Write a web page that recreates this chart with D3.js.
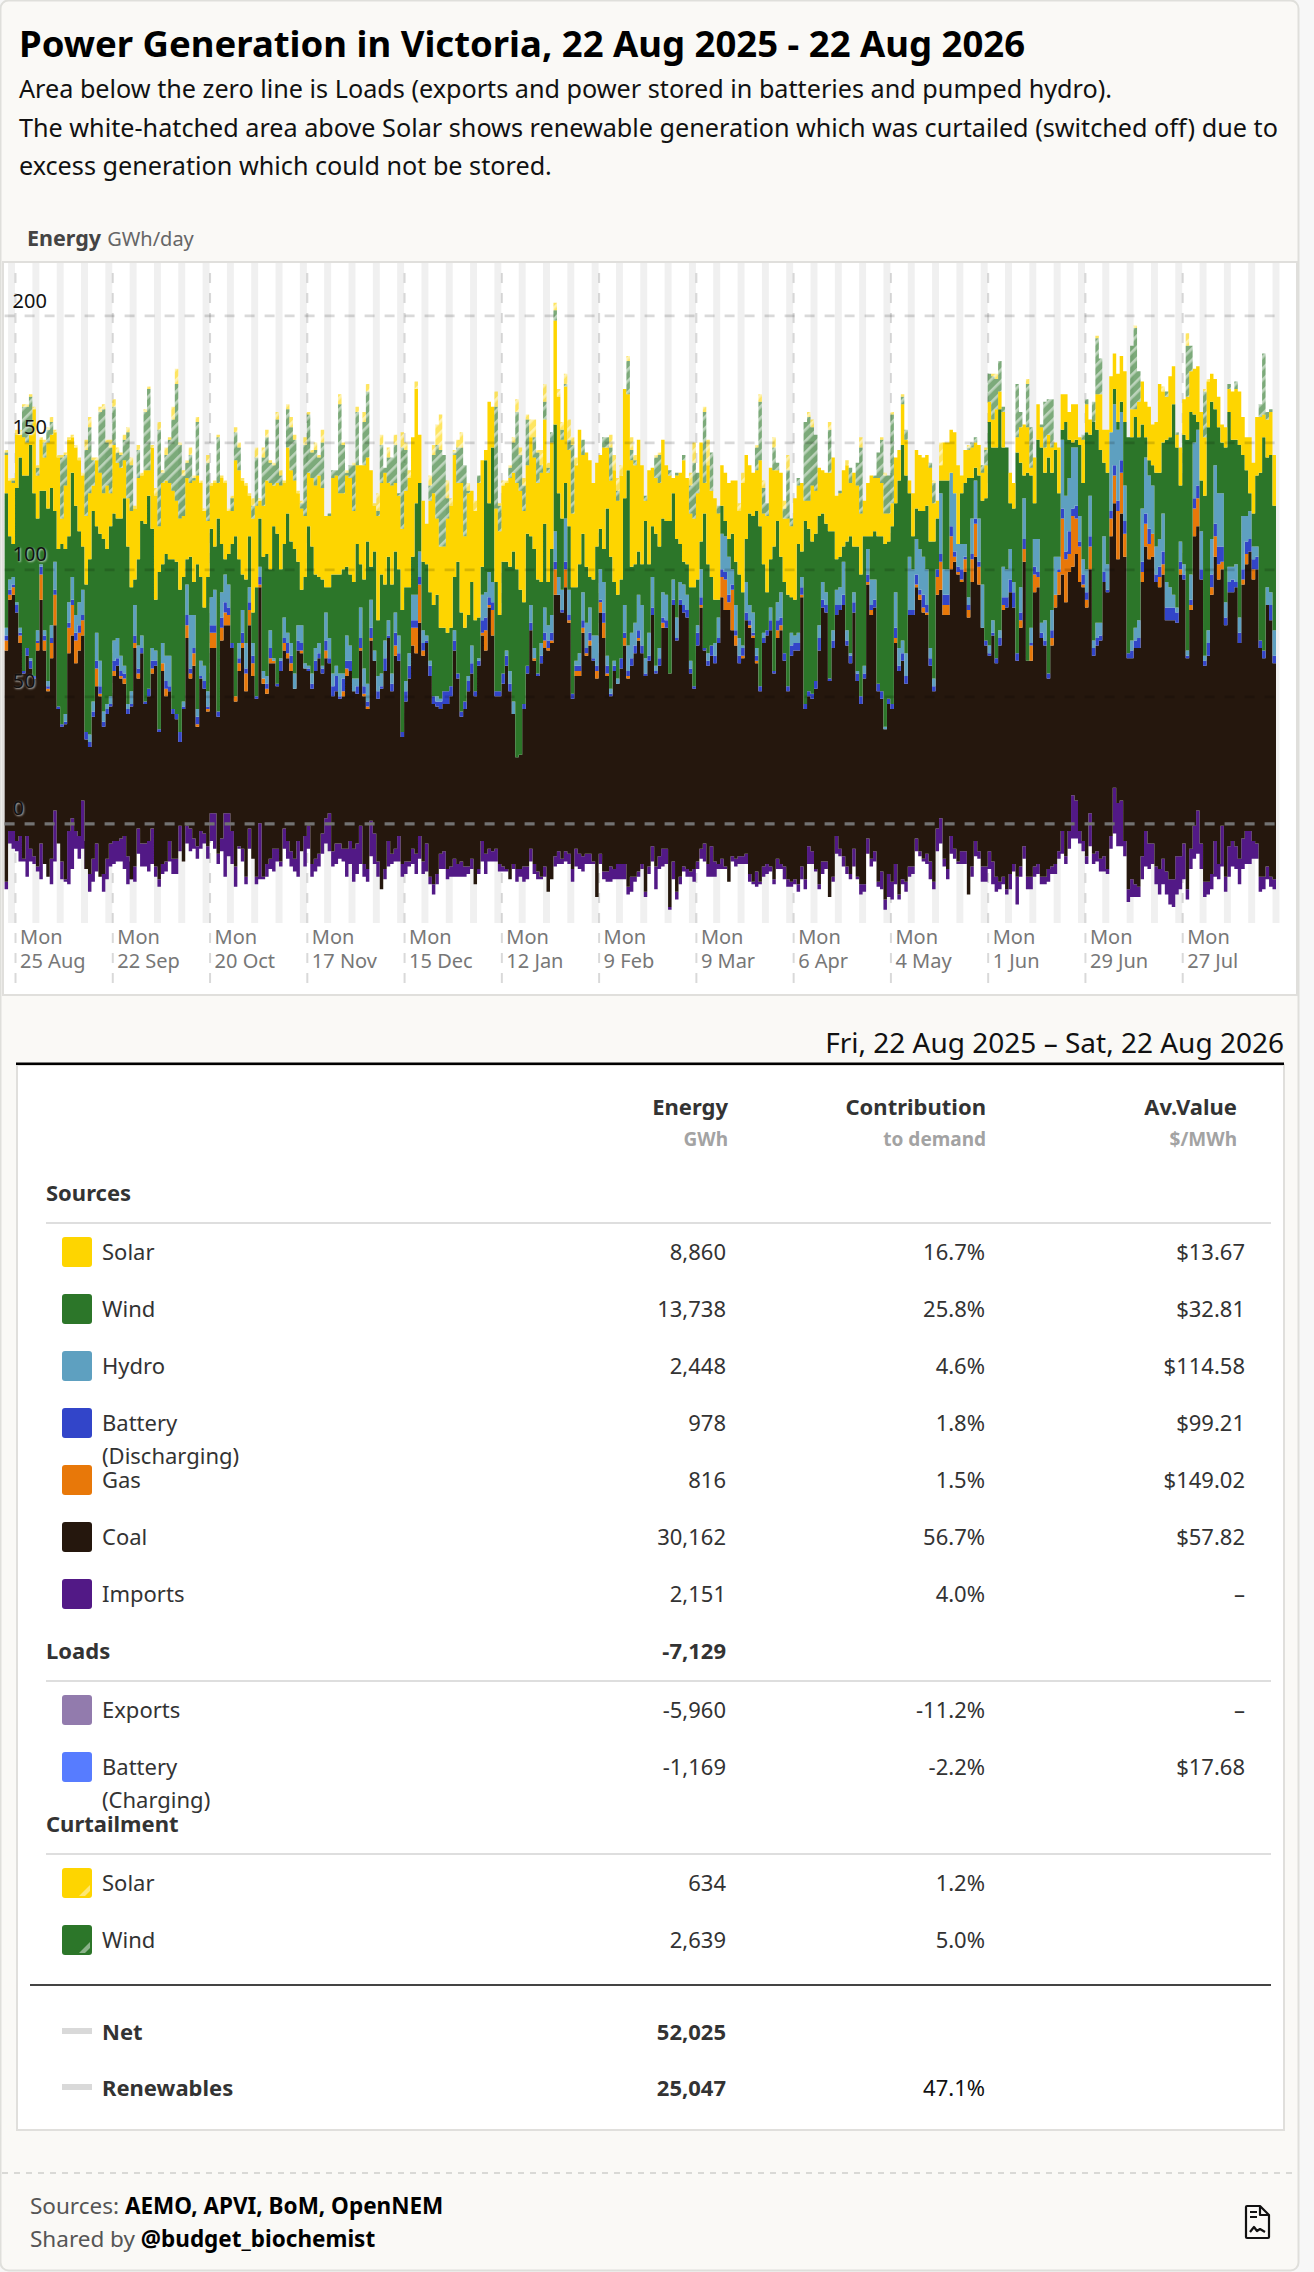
<!DOCTYPE html>
<html>
<head>
<meta charset="utf-8">
<script src="https://cdn.jsdelivr.net/npm/d3@7"></script>
<style>
  html, body { margin: 0; background: #f7f7f7; }
  svg { display: block; font-family: "Noto Sans", sans-serif; }
  .y-label { text-shadow: 1px 1px 2px rgba(255,255,255,.7); }
</style>
</head>
<body>
<div id="chart"></div>
<script>
// daily levels in GWh/day, one block per quarter of the chart
const floorLevel = [
-26,-8,-10,-11,-15,-15,-21,-15,-16,-19,-22,-16,-21,-24,-15,-8,-22,-23,-24,-18,-10,-14,-10,-7,-27,-23,-19,-21,-27,-22,-17,-16,-15,-15,-18,-24,-15,-23,-12,-17,-17,-19,-16,-21,-25,-20,-19,-15,-20,-20,-11,-15,-8,-11,-10,-14,-10,-8,-14,-7,-10,-16,-11,-21,-13,-16,-25,-10,-15,-24,-10,-14,-24,-22,-22,-21,-18,-19,-15,-17,-10,-14,-17,-19,-21,-11,-17,-10,-21,-19,-17,-12,
-8,-11,-17,-16,-14,-15,-21,-16,-23,-20,-16,-21,-23,-13,-16,-21,-26,-22,-17,-16,-15,-15,-21,-20,-17,-16,-20,-14,-20,-19,-24,-28,-24,-18,-18,-22,-21,-21,-21,-21,-21,-20,-18,-24,-20,-15,-20,-15,-15,-15,-19,-19,-19,-22,-18,-23,-21,-23,-22,-15,-20,-22,-22,-21,-27,-22,-17,-16,-16,-15,-16,-23,-17,-18,-19,-16,-16,-16,-29,-16,-22,-23,-23,-22,-22,-22,-22,-28,-27,-23,-21,
-18,-29,-20,-15,-26,-18,-17,-16,-34,-22,-30,-24,-19,-21,-21,-23,-18,-14,-15,-21,-21,-21,-18,-18,-18,-23,-15,-17,-16,-16,-16,-23,-24,-25,-24,-21,-20,-19,-24,-18,-18,-22,-25,-25,-24,-27,-22,-26,-16,-16,-19,-26,-20,-18,-29,-23,-12,-13,-17,-20,-22,-17,-22,-28,-27,-12,-17,-15,-25,-26,-34,-29,-30,-24,-30,-24,-27,-21,-20,-11,-13,-15,-16,-22,-26,-11,-8,-17,-22,-12,-14,-16,
-16,-16,-28,-21,-13,-14,-23,-23,-18,-24,-27,-26,-24,-28,-26,-19,-32,-21,-14,-26,-26,-21,-20,-24,-24,-23,-20,-20,-14,-12,-16,-10,-6,-6,-8,-11,-16,-9,-16,-15,-19,-19,-20,-10,-4,-9,-9,-13,-31,-29,-29,-29,-22,-17,-18,-16,-24,-28,-24,-28,-32,-33,-28,-26,-22,-30,-18,-14,-12,-18,-29,-28,-26,-21,-22,-17,-27,-21,-17,-18,-24,-18,-16,-16,-14,-14,-27,-26,-22,-25,-26];

const importsTop = [
-23,-3,-3,-7,-5,-14,-5,-10,-13,-17,-8,-16,-21,-14,5,-8,-15,-22,-3,2,-3,-5,9,-18,-20,-14,-8,-21,-20,-14,-8,-7,-7,-6,-5,-13,-22,-17,-2,-8,-8,-7,-2,-17,-22,-16,-15,-7,-14,-14,-1,-15,-1,-2,-6,-9,-3,-4,-9,4,4,-12,-6,4,4,-3,-17,-9,-10,-21,-2,-14,-21,0,-21,-16,-14,-10,-10,-15,-2,-7,-11,-14,-7,-11,-5,-1,-16,-14,-12,-4,
2,4,-11,-8,-8,-10,-10,-7,-10,-8,-1,-16,-18,1,-4,-15,-26,-18,-7,-12,-10,-5,-16,-15,-15,-10,-12,-5,-15,-8,-21,-24,-20,-12,-11,-18,-17,-14,-16,-15,-17,-17,-14,-24,-18,-7,-12,-10,-11,-10,-16,-17,-18,-22,-16,-18,-18,-17,-17,-10,-16,-19,-21,-17,-27,-22,-13,-11,-14,-11,-12,-18,-10,-12,-13,-12,-12,-15,-29,-12,-19,-19,-17,-18,-16,-16,-16,-25,-21,-21,-19,
-16,-27,-17,-9,-17,-13,-10,-10,-33,-15,-27,-21,-17,-18,-19,-18,-15,-10,-8,-16,-9,-15,-16,-14,-17,-23,-13,-14,-13,-13,-12,-20,-23,-19,-23,-17,-16,-17,-22,-14,-16,-17,-22,-23,-22,-24,-17,-22,-9,-11,-18,-24,-15,-15,-29,-21,-5,-10,-13,-17,-20,-10,-21,-24,-24,-6,-14,-11,-23,-19,-30,-20,-23,-16,-28,-22,-23,-17,-17,-6,-11,-14,-12,-15,-23,-2,2,-14,-18,-5,-10,-15,
-11,-11,-28,-17,-7,-11,-17,-17,-11,-15,-21,-23,-21,-26,-20,-16,-21,-17,-9,-21,-21,-17,-16,-21,-21,-18,-17,-16,-11,-3,-13,-3,11,9,-3,-7,-13,4,-12,-11,-14,-13,-18,-5,14,8,9,-7,-26,-22,-24,-25,-13,-3,-8,-8,-17,-18,-14,-19,-22,-22,-13,-13,-8,-26,-10,-1,5,-8,-23,-23,-20,-7,-16,-1,-21,-9,-7,-9,-14,-6,-3,-3,-7,-8,-21,-21,-17,-21,-22];

const coalTop = [
68,88,90,83,71,59,66,61,57,68,88,68,52,65,78,45,38,39,67,74,63,68,74,33,30,42,54,50,38,43,46,58,62,57,55,43,46,69,57,67,47,50,59,62,36,60,50,52,43,41,32,45,73,57,62,38,57,53,44,69,69,42,72,78,78,69,48,60,69,52,78,58,49,93,55,51,63,63,54,60,68,65,60,53,68,67,61,60,53,60,65,59,
65,63,50,52,49,50,58,60,52,51,68,50,45,72,64,49,53,60,73,52,66,64,34,48,57,70,67,79,66,71,58,47,46,45,47,47,50,68,57,42,45,52,59,50,62,74,68,85,74,50,50,55,62,52,43,26,27,45,59,76,64,58,63,69,68,71,90,90,83,93,79,49,58,58,75,66,70,64,57,83,73,58,50,60,55,61,70,57,62,67,72,
67,58,64,82,59,62,77,77,59,86,72,86,83,81,59,53,70,85,68,62,66,63,71,89,84,84,76,70,63,65,80,77,73,63,52,71,74,76,59,73,76,64,52,66,68,68,89,45,50,49,53,68,85,83,56,69,82,84,86,70,63,83,56,47,57,94,82,85,52,49,37,47,45,71,60,64,55,82,82,93,88,83,82,62,52,90,92,82,82,100,103,98,
95,99,81,95,105,94,77,70,66,74,63,70,84,85,91,85,64,77,103,64,64,91,93,73,70,57,70,85,90,98,87,99,101,106,95,93,85,100,66,70,72,95,91,113,126,104,122,105,65,65,69,69,95,109,104,105,95,93,98,80,80,80,79,98,96,65,84,113,117,96,62,66,90,105,96,100,78,91,91,93,71,94,102,107,96,100,69,65,86,80,63];

const gasTop = [
72,90,93,83,74,59,66,61,57,71,98,72,53,71,90,45,38,39,77,86,72,75,80,33,30,42,61,51,38,43,46,60,62,58,57,43,46,71,59,67,47,50,61,62,36,63,53,52,43,41,32,45,78,59,67,39,57,53,45,75,75,42,77,83,82,69,50,63,71,59,84,63,49,94,57,53,65,64,54,60,71,67,63,53,68,68,61,60,53,60,65,59,
68,63,50,52,49,52,61,60,52,51,69,51,46,73,64,49,53,60,73,52,70,64,34,48,57,77,77,94,68,71,58,47,46,45,47,47,50,68,57,42,45,52,59,50,62,75,76,86,84,50,50,55,62,52,43,26,27,45,59,76,65,58,63,72,69,72,100,90,83,100,80,49,60,60,77,67,72,64,60,87,79,59,50,60,55,61,73,58,62,67,73,
67,58,64,82,59,62,79,77,59,86,72,86,83,81,59,53,70,86,68,62,66,63,71,97,96,87,92,74,63,66,80,78,74,64,52,71,74,76,59,76,78,64,52,66,68,68,90,45,50,49,53,68,85,83,56,69,82,84,86,70,63,83,56,47,57,95,84,85,52,49,37,47,45,73,60,64,55,82,82,94,90,85,83,62,52,97,103,86,86,113,105,99,
96,104,84,104,118,101,77,70,66,74,63,70,86,85,91,85,64,80,108,64,70,98,97,73,70,57,73,90,99,120,104,106,121,120,109,94,88,109,66,70,72,95,91,120,137,123,138,114,65,65,69,69,99,118,110,114,95,97,102,80,80,80,79,100,96,65,86,124,128,96,62,66,93,113,102,103,78,91,91,93,71,96,106,107,100,100,69,65,86,80,63];

const batteryTop = [
74,92,94,86,75,60,69,64,58,72,101,74,54,73,92,46,39,40,79,88,75,78,82,36,32,44,64,54,40,45,47,64,65,60,59,45,47,74,61,69,48,53,64,64,37,63,56,54,45,43,36,46,82,61,69,42,58,56,46,78,78,44,81,87,85,71,50,65,75,61,87,66,50,97,57,55,69,64,55,64,73,71,66,53,72,71,61,61,55,64,67,61,
72,65,54,58,50,57,64,64,52,54,73,54,48,77,64,52,54,65,74,55,75,67,36,52,62,80,80,97,71,72,62,50,48,48,52,52,54,72,59,44,48,56,63,52,64,80,81,89,87,52,52,59,66,55,43,26,27,47,62,79,65,59,66,75,72,75,103,90,84,103,82,51,62,62,80,69,75,65,62,88,83,62,51,62,55,65,75,60,65,70,76,
70,59,66,85,60,65,81,80,59,88,73,88,86,84,61,54,75,89,69,64,70,66,73,100,99,90,94,76,66,69,83,80,75,66,54,73,76,80,60,80,81,67,54,70,71,71,93,47,52,51,56,73,88,86,57,72,86,86,90,72,66,87,59,50,59,98,86,88,55,52,37,49,47,77,62,67,58,84,84,98,92,90,86,65,54,100,106,90,90,117,107,101,
100,105,86,106,120,103,77,72,67,75,65,73,89,89,96,91,67,83,112,64,71,101,99,75,72,59,76,90,100,124,107,115,124,125,111,98,91,113,69,73,74,99,92,123,141,127,143,119,67,68,72,73,103,122,116,114,98,101,107,85,85,85,83,103,98,66,88,128,133,100,64,71,98,118,109,109,81,95,96,95,75,100,111,112,104,105,72,68,86,86,66];

const hydroTop = [
77,96,97,87,77,60,69,65,58,76,102,76,56,78,103,46,39,43,87,97,82,87,92,36,35,48,75,64,44,47,50,72,73,66,62,47,52,86,70,74,48,53,69,68,37,71,66,66,45,43,36,48,94,82,82,45,64,62,52,89,92,44,91,98,94,71,50,71,84,71,93,71,50,101,60,58,76,65,55,65,81,75,71,59,78,78,63,62,59,69,71,62,
83,73,59,62,59,59,74,70,57,57,85,61,55,88,68,58,59,72,80,59,83,74,36,56,67,90,90,107,76,74,64,50,50,49,52,52,54,76,59,44,48,58,70,52,65,90,91,99,95,52,52,59,68,60,48,26,27,47,62,86,69,59,71,85,78,82,115,97,92,120,92,51,64,67,91,79,85,74,74,100,95,66,53,64,57,65,86,70,75,79,90,
86,65,75,97,62,69,91,90,59,96,81,95,94,90,64,54,78,100,69,67,70,71,81,114,113,105,100,86,73,70,95,86,83,69,54,75,76,85,60,87,91,67,54,75,74,75,97,47,52,51,56,78,95,91,57,76,92,93,103,76,67,91,60,50,62,108,96,96,55,52,38,49,47,91,69,72,67,105,100,112,108,105,100,69,57,100,130,100,100,138,130,110,
110,110,89,120,135,120,94,72,70,80,65,76,101,100,108,95,67,93,128,64,77,112,112,79,80,59,84,105,105,151,129,136,148,148,121,104,100,129,72,79,79,113,102,154,165,155,162,133,67,72,77,80,124,144,137,133,109,112,122,95,93,90,85,111,102,68,98,150,155,115,66,76,112,141,130,130,87,101,101,102,81,121,121,123,109,109,72,68,93,91,76];

const windTop = [
130,113,110,132,144,137,137,149,130,120,131,131,124,132,123,108,110,108,113,138,125,115,109,94,104,123,117,114,112,108,117,122,120,120,128,109,93,96,104,119,118,129,116,88,99,102,106,104,104,103,92,97,104,105,95,102,97,85,97,116,109,120,110,104,106,110,113,104,98,96,113,83,93,120,105,106,100,117,114,100,110,122,111,108,103,92,97,117,109,98,97,96,
93,93,98,98,98,100,101,98,95,110,102,96,111,101,107,80,98,94,105,94,107,100,84,93,93,105,126,134,103,102,91,86,90,77,77,75,77,97,103,83,77,82,95,80,81,101,143,126,148,95,82,103,103,101,107,100,92,87,114,113,108,96,95,118,95,108,157,130,120,134,117,93,93,102,114,101,97,96,109,116,108,124,105,95,90,96,128,139,101,102,107,
102,119,102,117,114,109,120,119,119,130,112,110,103,102,93,93,96,111,122,102,97,88,88,125,119,112,114,103,98,91,112,122,121,123,117,102,91,104,109,119,105,95,90,89,88,110,107,119,116,111,114,121,122,118,115,115,104,105,109,111,113,109,109,98,113,113,113,115,113,113,110,111,117,126,135,149,137,130,113,124,123,123,125,111,111,120,135,135,135,138,130,110,
130,134,136,136,140,137,127,128,158,148,148,163,148,148,126,124,146,142,137,138,137,126,151,148,138,144,138,147,130,155,158,151,150,151,149,134,154,153,158,155,147,142,138,154,171,158,166,158,152,152,160,152,157,152,143,141,138,138,150,151,152,165,148,133,153,151,162,161,158,135,129,156,166,163,156,150,148,162,151,151,149,145,139,130,122,137,138,152,144,145,125];

const solarTop = [
145,135,134,153,153,152,150,153,163,137,151,144,150,153,154,144,120,133,151,152,148,143,137,121,130,133,143,138,130,133,130,149,142,140,143,128,123,124,136,137,139,139,148,129,117,134,135,134,131,127,120,121,136,134,135,137,134,123,119,133,134,134,136,134,123,123,143,139,135,133,129,120,125,127,125,135,134,133,134,133,134,148,139,135,130,124,121,138,136,133,137,132,
121,121,136,137,130,130,137,136,123,141,141,141,144,139,125,121,134,138,134,133,134,129,116,131,136,152,171,153,127,118,127,130,120,109,109,120,125,145,134,134,113,130,131,123,134,143,147,166,164,124,115,133,134,136,138,134,131,123,141,152,144,134,138,159,138,150,198,168,151,172,147,122,141,155,145,146,143,134,142,145,148,148,135,139,127,137,171,169,143,141,151,
141,127,139,140,136,134,151,141,137,136,137,138,143,136,122,120,130,150,134,141,131,128,122,141,138,134,135,135,123,134,145,141,138,139,143,122,121,140,139,139,138,120,120,117,128,133,134,127,127,133,131,140,139,138,138,144,129,130,139,141,134,138,133,122,127,134,137,136,136,134,122,122,126,144,147,165,151,135,130,147,145,144,145,140,126,127,141,150,150,155,154,141,
137,147,147,148,150,149,138,141,166,159,163,170,162,148,138,134,152,156,157,156,140,144,165,156,148,153,148,150,148,169,169,162,165,165,152,151,165,159,158,169,169,155,155,176,185,177,184,178,152,163,163,166,174,166,164,157,158,173,170,168,176,180,153,148,167,168,178,179,180,162,152,174,177,175,168,157,156,171,170,171,170,160,152,152,142,160,160,161,159,162,145];

const curtailWindTop = [
146,135,135,153,153,164,164,168,163,140,151,150,155,158,154,144,144,145,151,152,148,143,137,147,156,143,143,162,163,150,148,164,146,145,151,154,141,124,147,137,162,171,148,129,155,138,145,151,159,173,149,137,142,145,136,158,134,123,142,133,134,152,136,134,123,128,154,148,135,133,129,125,144,127,144,152,142,141,159,137,134,163,156,151,130,126,149,161,146,147,144,150,
121,122,139,139,165,149,138,141,141,162,141,158,170,139,125,123,149,140,144,144,149,130,148,147,136,152,171,153,127,118,133,145,149,147,145,128,125,146,148,148,141,131,131,123,137,143,147,166,164,164,125,133,134,140,150,162,145,133,159,152,152,146,141,166,140,154,202,168,155,173,151,149,141,155,151,146,143,134,142,145,152,152,148,139,131,137,171,182,147,143,151,
141,129,139,140,144,145,151,141,139,136,138,138,145,136,133,142,138,150,162,141,146,128,125,141,138,134,135,135,123,134,145,141,138,148,166,132,126,140,148,142,138,124,139,120,128,136,134,158,160,156,153,140,139,138,155,144,129,131,139,141,140,138,142,148,127,134,137,137,146,151,137,137,161,144,147,168,155,135,130,147,145,144,145,142,134,127,141,150,150,155,154,141,
137,147,148,150,152,149,141,147,177,176,175,182,164,148,138,134,173,162,157,173,156,144,165,157,166,167,167,150,148,169,169,162,165,165,152,153,167,159,166,191,183,155,155,176,185,177,184,178,152,188,195,178,174,166,164,157,158,173,170,170,176,180,154,148,167,188,188,179,180,162,170,174,177,175,168,157,156,173,170,174,170,160,152,152,142,160,165,185,162,163,145];

const curtailSolarTop = [
147,136,136,155,155,165,165,169,164,141,152,151,156,160,155,145,145,146,152,153,149,144,138,151,160,144,144,164,165,151,151,167,148,146,153,156,144,125,149,138,163,172,149,132,158,139,148,152,164,179,150,139,143,148,137,160,135,124,145,134,135,153,137,135,124,129,156,150,136,134,130,128,148,128,148,155,143,142,162,139,135,165,160,153,131,127,152,162,147,150,145,155,
121,122,139,139,169,150,139,141,142,164,141,162,173,139,126,130,153,140,148,144,153,130,154,150,139,152,174,153,127,118,137,149,157,161,145,135,128,147,151,154,141,134,131,127,137,143,147,166,164,170,126,135,135,141,152,167,148,136,161,159,159,147,147,173,142,154,205,171,158,177,159,152,144,155,151,146,143,134,142,145,152,152,153,145,136,141,171,184,152,145,151,
141,129,139,140,145,146,151,141,139,136,138,138,145,136,138,150,138,150,164,151,146,128,125,141,138,134,135,135,126,138,145,141,138,149,169,135,126,140,152,142,138,127,145,120,128,136,134,158,162,159,153,140,139,138,158,144,129,131,139,143,140,138,142,152,127,134,137,137,146,152,138,137,162,144,147,169,155,135,130,147,145,144,145,142,135,127,150,150,150,155,154,141,
137,147,149,150,152,149,141,148,177,177,177,182,164,148,138,134,173,162,157,175,156,144,165,157,166,167,167,150,148,169,169,162,165,165,152,153,167,159,166,192,183,155,155,176,185,177,184,178,152,188,196,178,174,166,164,157,158,173,172,170,176,180,154,148,167,193,188,179,180,162,171,175,177,175,168,157,156,173,170,174,170,160,152,152,142,160,165,185,162,163,145];

// axes
const yTicks = [0, 50, 100, 150, 200];
const tickDates = ["2025-08-25","2025-09-22","2025-10-20","2025-11-17","2025-12-15","2026-01-12","2026-02-09","2026-03-09","2026-04-06","2026-05-04","2026-06-01","2026-06-29","2026-07-27"];
const tickLabels = ["25 Aug","22 Sep","20 Oct","17 Nov","15 Dec","12 Jan","9 Feb","9 Mar","6 Apr","4 May","1 Jun","29 Jun","27 Jul"];

// table
const sourceNames = [["Solar"],["Wind"],["Hydro"],["Battery","(Discharging)"],["Gas"],["Coal"],["Imports"]];
const sourceEnergy = ["8,860","13,738","2,448","978","816","30,162","2,151"];
const sourceShare = ["16.7%","25.8%","4.6%","1.8%","1.5%","56.7%","4.0%"];
const sourcePrice = ["$13.67","$32.81","$114.58","$99.21","$149.02","$57.82","–"];
const loadNames = [["Exports"],["Battery","(Charging)"]];
const loadEnergy = ["-5,960","-1,169"];
const loadShare = ["-11.2%","-2.2%"];
const loadPrice = ["–","$17.68"];
const curtailNames = [["Solar"],["Wind"]];
const curtailEnergy = ["634","2,639"];
const curtailShare = ["1.2%","5.0%"];

const COLORS = {
    solar: "#fed500", wind: "#2c7629", hydro: "#5ea0c0", batteryOut: "#3245c9",
    gas: "#e87809", coal: "#25170d", imports: "#521986", exports: "#927bad", batteryIn: "#577cff"
};

const WIDTH = 1314;
const HEIGHT = 2272;

const svg = d3.select("#chart").append("svg").attr("width", WIDTH).attr("height", HEIGHT);

const text = (x, y, str, opts = {}) => svg.append("text")
    .attr("x", x).attr("y", y).attr("dy", "0.35em")
    .attr("text-anchor", opts.anchor || "start")
    .attr("font-size", opts.size || 22)
    .attr("font-weight", opts.weight || 400)
    .attr("fill", opts.fill || "#333")
    .text(str);

// card
svg.append("rect").attr("x", 0.5).attr("y", 0.5).attr("width", 1298).attr("height", 2270).attr("rx", 8)
    .attr("fill", "#faf9f6").attr("stroke", "#dfdfdb").attr("stroke-width", 2);

text(19, 44, "Power Generation in Victoria, 22 Aug 2025 - 22 Aug 2026", { size: 36.5, weight: 700, fill: "#000" });
text(19, 89, "Area below the zero line is Loads (exports and power stored in batteries and pumped hydro).", { size: 25.2, fill: "#111" });
text(19, 128, "The white-hatched area above Solar shows renewable generation which was curtailed (switched off) due to", { size: 25.2, fill: "#111" });
text(19, 166, "excess generation which could not be stored.", { size: 25.2, fill: "#111" });
const energyTitle = text(27, 238, "Energy", { size: 21.5, weight: 700, fill: "#444" });
energyTitle.append("tspan").attr("dx", 6).attr("font-weight", 400).attr("font-size", 20).attr("fill", "#666").text("GWh/day");

// plot panel
svg.append("rect").attr("x", 3).attr("y", 262).attr("width", 1294).attr("height", 733)
    .attr("fill", "#fff").attr("stroke", "#e0dfdc").attr("stroke-width", 2);

const startDay = Date.UTC(2025, 7, 22);
const dayDate = i => d3.utcDay.offset(new Date(startDay), i);
const x = d3.scaleUtc().domain([dayDate(0), dayDate(floorLevel.length)]).range([4.6, 1276]);
const y = d3.scaleLinear().domain([0, 200]).range([823.3, 315.4]);

const defs = svg.append("defs");
const hatch = (id, color) => {
    const p = defs.append("pattern").attr("id", id).attr("patternUnits", "userSpaceOnUse")
        .attr("width", 8).attr("height", 8).attr("patternTransform", "rotate(45)");
    p.append("rect").attr("width", 8).attr("height", 8).attr("fill", color).attr("opacity", 0.62);
    p.append("rect").attr("width", 2.6).attr("height", 8).attr("fill", "#fff").attr("opacity", 0.5);
};
hatch("hatch-wind", COLORS.wind);
hatch("hatch-solar", COLORS.solar);

// weekend bands
svg.append("g").selectAll("rect")
    .data(d3.utcSaturday.range(dayDate(0), dayDate(floorLevel.length)))
    .enter()
    .append("rect")
    .attr("x", d => x(d))
    .attr("y", 263)
    .attr("width", d => x(d3.utcDay.offset(d, 2)) - x(d))
    .attr("height", 660)
    .attr("fill", "#f0f0f0");

// monday ticks go under the data
const ticks = tickDates.map(d => new Date(d + "T00:00:00Z"));
const xAxis = svg.append("g")
    .attr("transform", "translate(0,983)")
    .call(d3.axisBottom(x).tickValues(ticks).tickSize(-720).tickFormat(""));
xAxis.select(".domain").remove();
xAxis.selectAll("line").attr("stroke", "rgba(0,0,0,.15)").attr("stroke-width", 2).attr("stroke-dasharray", "10,10");
xAxis.selectAll("g.tick text").remove();

// stacked levels
const layers = [
    [floorLevel, importsTop, COLORS.imports],
    [importsTop, coalTop, COLORS.coal],
    [coalTop, gasTop, COLORS.gas],
    [gasTop, batteryTop, COLORS.batteryOut],
    [batteryTop, hydroTop, COLORS.hydro],
    [hydroTop, windTop, COLORS.wind],
    [windTop, solarTop, COLORS.solar],
    [solarTop, curtailWindTop, "url(#hatch-wind)"],
    [curtailWindTop, curtailSolarTop, "url(#hatch-solar)"]
];
const last = floorLevel.length - 1;
svg.append("g").selectAll("path")
    .data(layers)
    .enter()
    .append("path")
    .attr("fill", d => d[2])
    .attr("d", d => d3.area()
        .curve(d3.curveStepAfter)
        .x(i => x(dayDate(i)))
        .y0(i => y(d[0][Math.min(i, last)]))
        .y1(i => y(d[1][Math.min(i, last)]))(d3.range(last + 2)));

// y grid sits on top of the data
const yAxis = svg.append("g")
    .attr("transform", "translate(4.6,0)")
    .call(d3.axisLeft(y).tickValues(yTicks).tickSize(-1271.4));
yAxis.select(".domain").remove();
yAxis.selectAll("g.tick line")
    .attr("stroke", d => d === 0 ? "#737373" : "rgba(0,0,0,.15)")
    .attr("stroke-width", d => d === 0 ? 3.2 : 2.6)
    .attr("stroke-dasharray", "10,10");
yAxis.selectAll("g.tick text")
    .attr("class", "y-label")
    .attr("text-anchor", "start")
    .attr("x", 8)
    .attr("dy", "-0.42em")
    .attr("font-family", '"Noto Sans", sans-serif')
    .attr("font-size", 20)
    .attr("fill", "#111");

// x labels
tickLabels.forEach((label, i) => {
    const lx = x(ticks[i]) + 5;
    text(lx, 937, "Mon", { size: 20, fill: "#777" });
    text(lx, 961, label, { size: 20, fill: "#777" });
});

// table
text(1284, 1043, "Fri, 22 Aug 2025 – Sat, 22 Aug 2026", { anchor: "end", size: 28, fill: "#111" });
svg.append("rect").attr("x", 17).attr("y", 1065).attr("width", 1267).attr("height", 1065)
    .attr("fill", "#fff").attr("stroke", "#e0dfdc").attr("stroke-width", 2);
svg.append("rect").attr("x", 16).attr("y", 1062.5).attr("width", 1268).attr("height", 2.5).attr("fill", "#000");

const COL_ENERGY = 726;
const COL_SHARE = 985;
const COL_PRICE = 1245;

[["Energy", "GWh", 728], ["Contribution", "to demand", 986], ["Av.Value", "$/MWh", 1237]].forEach(([head, sub, cx]) => {
    text(cx, 1107, head, { anchor: "end", weight: 700 });
    text(cx, 1139, sub, { anchor: "end", size: 19, weight: 700, fill: "#a3a3a3" });
});

const rule = (yy, x0, stroke, w) => svg.append("line")
    .attr("x1", x0).attr("x2", 1271).attr("y1", yy).attr("y2", yy)
    .attr("stroke", stroke).attr("stroke-width", w);

const swatch = (yy, color, striped) => {
    svg.append("rect").attr("x", 62).attr("y", yy - 15).attr("width", 30).attr("height", 30).attr("rx", 3).attr("fill", color);
    if (striped) {
        svg.append("path").attr("d", `M${79} ${yy + 13}L${90} ${yy + 2}V${yy + 8}L${85} ${yy + 13}Z`)
            .attr("fill", "#fff").attr("opacity", 0.45);
    }
};

const rows = (names, colors, energy, share, price, yStart, striped) => {
    names.forEach((name, i) => {
        const yy = yStart[i];
        swatch(yy, colors[i], striped);
        text(102, yy, name[0]);
        if (name[1]) text(102, yy + 33, name[1]);
        text(COL_ENERGY, yy, energy[i], { anchor: "end" });
        text(COL_SHARE, yy, share[i], { anchor: "end" });
        if (price) text(COL_PRICE, yy, price[i], { anchor: "end" });
    });
};

text(46, 1193, "Sources", { weight: 700 });
rule(1223, 46, "#dedede", 2);
rows(sourceNames,
    [COLORS.solar, COLORS.wind, COLORS.hydro, COLORS.batteryOut, COLORS.gas, COLORS.coal, COLORS.imports],
    sourceEnergy, sourceShare, sourcePrice, [1252, 1309, 1366, 1423, 1480, 1537, 1594]);

text(46, 1651, "Loads", { weight: 700 });
text(COL_ENERGY, 1651, "-7,129", { anchor: "end", weight: 700 });
rule(1681, 46, "#dedede", 2);
rows(loadNames, [COLORS.exports, COLORS.batteryIn], loadEnergy, loadShare, loadPrice, [1710, 1767]);

text(46, 1824, "Curtailment", { weight: 700 });
rule(1854, 46, "#dedede", 2);
rows(curtailNames, [COLORS.solar, COLORS.wind], curtailEnergy, curtailShare, null, [1883, 1940], true);

rule(1985, 30, "#444", 2);
[["Net", "52,025", "", 2032], ["Renewables", "25,047", "47.1%", 2088]].forEach(([name, energy, share, yy]) => {
    svg.append("rect").attr("x", 62).attr("y", yy - 4).attr("width", 30).attr("height", 6).attr("fill", "#d9d9d9");
    text(102, yy, name, { weight: 700 });
    text(COL_ENERGY, yy, energy, { anchor: "end", weight: 700 });
    if (share) text(COL_SHARE, yy, share, { anchor: "end", fill: "#111" });
});

// footer
svg.append("line").attr("x1", 2).attr("x2", 1298).attr("y1", 2173).attr("y2", 2173)
    .attr("stroke", "#d9d9d6").attr("stroke-width", 2).attr("stroke-dasharray", "6,6");
const src = text(30, 2206, "Sources: ", { size: 22.5, fill: "#555" });
src.append("tspan").attr("font-weight", 700).attr("fill", "#000").text("AEMO, APVI, BoM, OpenNEM");
const shared = text(30, 2239, "Shared by ", { size: 22.5, fill: "#555" });
shared.append("tspan").attr("font-weight", 700).attr("fill", "#000").text("@budget_biochemist");

const icon = svg.append("g").attr("transform", "translate(1245,2206)")
    .attr("fill", "none").attr("stroke", "#111").attr("stroke-width", 2.2).attr("stroke-linejoin", "round");
icon.append("path").attr("d", "M2 0H15L24 9V31Q24 32 23 32H2Q1 32 1 31V1Q1 0 2 0ZM15 0V9H24");
icon.append("path").attr("d", "M5 6H12M5 11H12");
icon.append("path").attr("d", "M5 26L9 21L12 25L15 23L20 26");
</script>
</body>
</html>
